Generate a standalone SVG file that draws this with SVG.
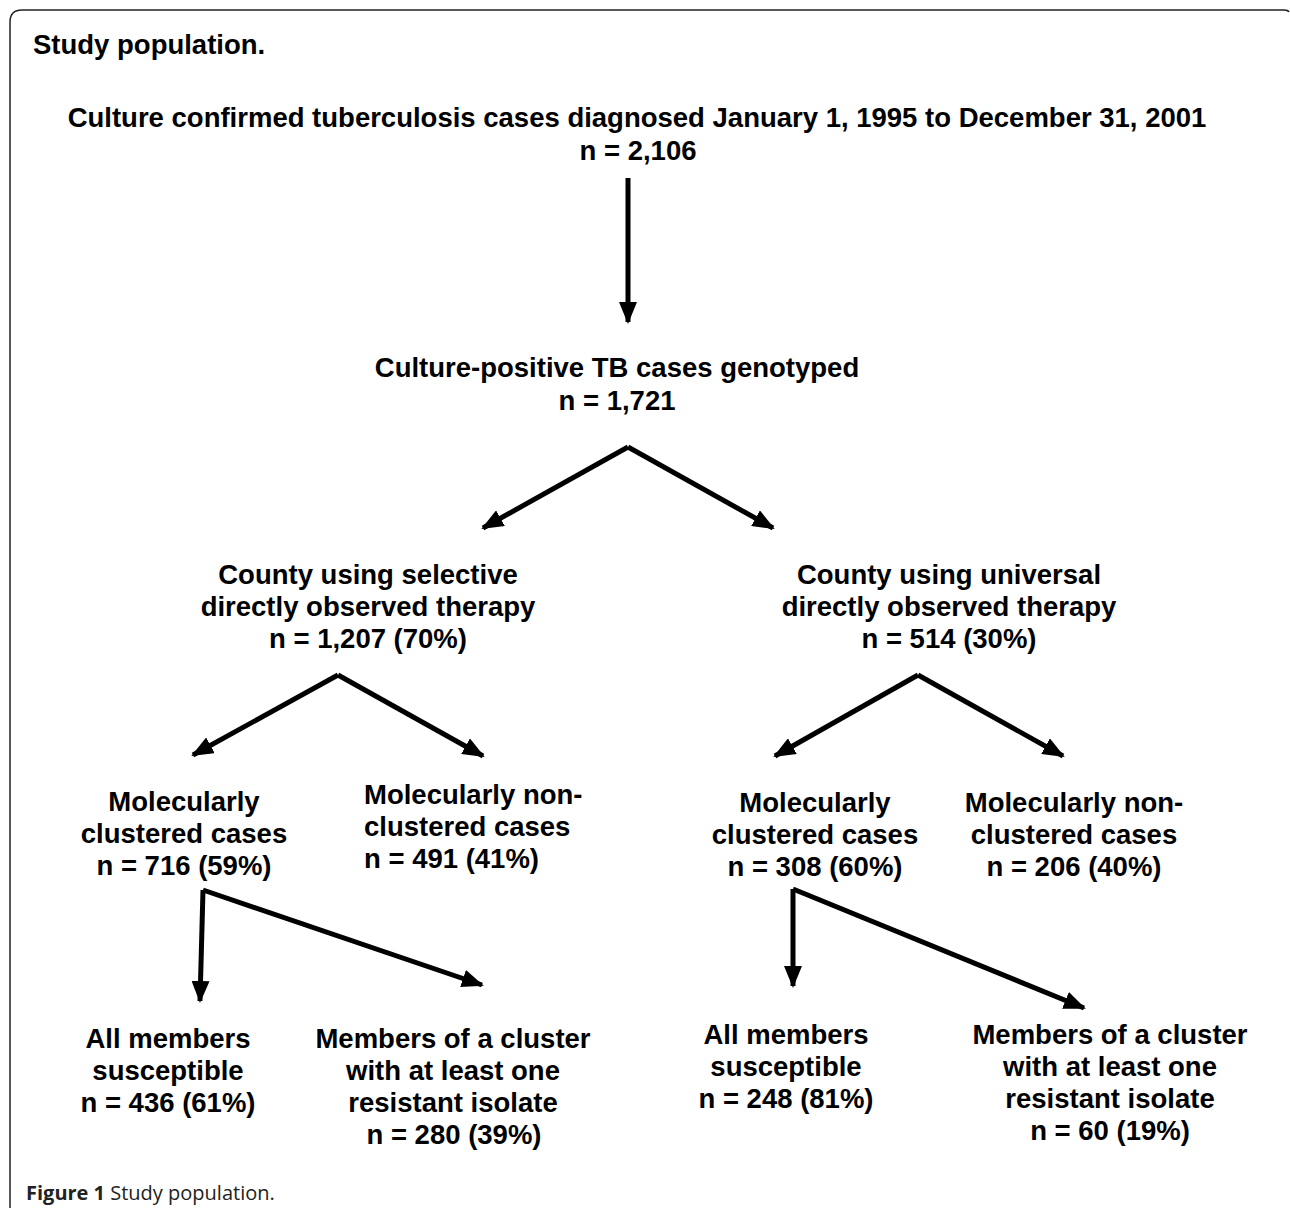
<svg xmlns="http://www.w3.org/2000/svg" width="1290" height="1211" viewBox="0 0 1290 1211">
<defs>
<marker id="ah" markerUnits="userSpaceOnUse" markerWidth="22" markerHeight="18" refX="20" refY="9" orient="auto">
<path d="M0,0 L22,9 L0,18 Z" fill="#000"/>
</marker>
<style>
.t{font-family:"Liberation Sans",Arial,sans-serif;font-weight:bold;font-size:27.5px;fill:#000;text-anchor:middle}
.l{text-anchor:start}
.c{stroke:#000;stroke-width:5;fill:none;marker-end:url(#ah)}
.cap{font-family:"Open Sans","Noto Sans",sans-serif;font-size:20px;fill:#222}
</style>
</defs>
<rect width="1290" height="1211" fill="#fff"/>
<path d="M10,1208 L10,22 Q10,10 22,10 L1284,10 Q1288,10 1289,12" fill="none" stroke="#222" stroke-width="1.5"/>
<text x="33" y="54" font-family="'Liberation Sans',Arial,sans-serif" font-weight="bold" font-size="27.5" fill="#000">Study population.</text>
<g id="connectors">
<line class="c" x1="628" y1="178" x2="628" y2="322"/>
<path class="c" d="M628,447 L483,528"/>
<path class="c" d="M628,447 L773,528"/>
<path class="c" d="M338,675 L193,755"/>
<path class="c" d="M338,675 L483,756"/>
<path class="c" d="M918,675 L775,756"/>
<path class="c" d="M918,675 L1063,756"/>
<path class="c" d="M203,890 L200,1001"/>
<path class="c" d="M203,890 L482,985"/>
<path class="c" d="M793,889 L793,986"/>
<path class="c" d="M793,889 L1084,1008"/>
</g>
<g id="n1"><text class="t" x="637" y="127">Culture confirmed tuberculosis cases diagnosed January 1, 1995 to December 31, 2001</text><text class="t" x="638" y="160">n = 2,106</text></g>
<g id="n2"><text class="t" x="617" y="377">Culture-positive TB cases genotyped</text><text class="t" x="617" y="410">n = 1,721</text></g>
<g id="n3"><text class="t" x="368" y="584">County using selective</text><text class="t" x="368" y="616">directly observed therapy</text><text class="t" x="368" y="648">n = 1,207 (70%)</text></g>
<g id="n4"><text class="t" x="949" y="584">County using universal</text><text class="t" x="949" y="616">directly observed therapy</text><text class="t" x="949" y="648">n = 514 (30%)</text></g>
<g id="n5"><text class="t" x="184" y="811">Molecularly</text><text class="t" x="184" y="843">clustered cases</text><text class="t" x="184" y="875">n = 716 (59%)</text></g>
<g id="n6"><text class="t l" x="364" y="804">Molecularly non-</text><text class="t l" x="364" y="836">clustered cases</text><text class="t l" x="364" y="868">n = 491 (41%)</text></g>
<g id="n7"><text class="t" x="815" y="812">Molecularly</text><text class="t" x="815" y="844">clustered cases</text><text class="t" x="815" y="876">n = 308 (60%)</text></g>
<g id="n8"><text class="t" x="1074" y="812">Molecularly non-</text><text class="t" x="1074" y="844">clustered cases</text><text class="t" x="1074" y="876">n = 206 (40%)</text></g>
<g id="n9"><text class="t" x="168" y="1048">All members</text><text class="t" x="168" y="1080">susceptible</text><text class="t" x="168" y="1112">n = 436 (61%)</text></g>
<g id="n10"><text class="t" x="453" y="1048">Members of a cluster</text><text class="t" x="453" y="1080">with at least one</text><text class="t" x="453" y="1112">resistant isolate</text><text class="t" x="454" y="1144">n = 280 (39%)</text></g>
<g id="n11"><text class="t" x="786" y="1044">All members</text><text class="t" x="786" y="1076">susceptible</text><text class="t" x="786" y="1108">n = 248 (81%)</text></g>
<g id="n12"><text class="t" x="1110" y="1044">Members of a cluster</text><text class="t" x="1110" y="1076">with at least one</text><text class="t" x="1110" y="1108">resistant isolate</text><text class="t" x="1110" y="1140">n = 60 (19%)</text></g>
<text class="cap" x="26" y="1200"><tspan font-weight="bold">Figure 1</tspan> Study population.</text>
</svg>
